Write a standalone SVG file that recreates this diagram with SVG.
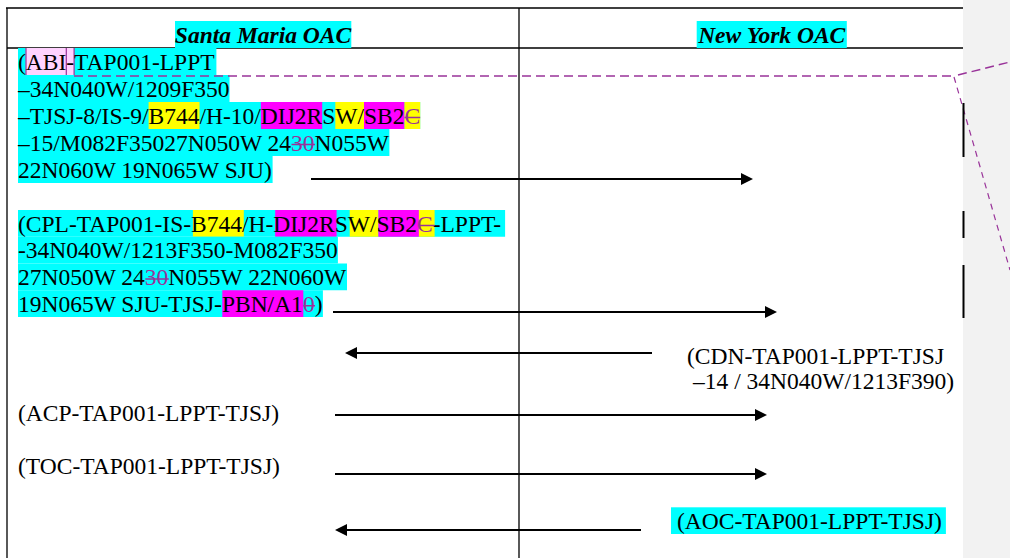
<svg xmlns="http://www.w3.org/2000/svg" width="1010" height="558" viewBox="0 0 1010 558">
  <defs>
    <style>
      .t { font-family: "Liberation Serif", "Times New Roman", serif; font-size: 23.5px; fill: #000; }
      .h { font-family: "Liberation Serif", "Times New Roman", serif; font-size: 23.5px; font-weight: bold; font-style: italic; fill: #000; }
      .del { fill: #993399; }
      .cy { fill: #00ffff; }
      .ye { fill: #ffff00; }
      .mg { fill: #ff00ff; }
      .strike { stroke: #993399; stroke-width: 1.3; }
      .grid { stroke: #000; stroke-width: 1.3; fill: none; }
      .arrow { stroke: #000; stroke-width: 1.8; fill: none; marker-end: url(#head); }
      .cmt { stroke: #993399; fill: none; }
    </style>
    <marker id="head" markerUnits="userSpaceOnUse" markerWidth="12" markerHeight="12" refX="2" refY="6" orient="auto">
      <path d="M0,0 L12,6 L0,12 Z" fill="#000"/>
    </marker>
  </defs>

  <!-- margin pane -->
  <rect x="963" y="0" width="47" height="558" fill="#f2f2f2"/>

  <!-- table frame -->
  <g id="table">
    <path class="grid" d="M6,8 H963 M7,8 V558 M519,8 V558 M7,48 H963"/>
  </g>

  <!-- column headers -->
  <g id="header-santa-maria">
    <rect class="cy" x="175" y="21" width="176.3" height="27"/>
    <text class="h" x="263" y="43" text-anchor="middle">Santa Maria OAC</text>
  </g>
  <g id="header-new-york">
    <rect class="cy" x="696.7" y="21" width="150.1" height="27"/>
    <text class="h" x="771.7" y="43" text-anchor="middle">New York OAC</text>
  </g>

  <!-- ABI message -->
  <g id="msg-abi">
    <rect class="cy" x="18" y="48" width="198.4" height="27"/>
    <rect x="25.8" y="48" width="48.3" height="27" fill="#ffd2ff"/>
    <path d="M26,48 V75 M66.3,48 V75 M74.1,48 V75" stroke="#993399" stroke-width="1.2"/>
    <rect class="cy" x="18" y="75" width="211.5" height="27"/>
    <rect class="cy" x="18" y="102" width="402.2" height="27"/>
    <rect class="ye" x="148.6" y="102" width="50.9" height="27"/>
    <rect class="mg" x="260.9" y="102" width="61.3" height="27"/>
    <rect class="ye" x="335.3" y="102" width="28.7" height="27"/>
    <rect class="mg" x="364" y="102" width="40.5" height="27"/>
    <rect class="ye" x="404.5" y="102" width="15.7" height="27"/>
    <rect class="cy" x="18" y="129" width="371.4" height="27"/>
    <rect class="cy" x="18" y="156" width="254.6" height="27"/>
    <text class="t" x="18" y="69.5">(ABI-TAP001-LPPT</text>
    <text class="t" x="18" y="96.5">–34N040W/1209F350</text>
    <text class="t" x="18" y="123.5">–TJSJ-8/IS-9/B744/H-10/DIJ2RSW/SB2<tspan class="del">C</tspan></text>
    <text class="t" x="18" y="150.5">–15/M082F35027N050W 24<tspan class="del">30</tspan>N055W</text>
    <text class="t" x="18" y="177.5">22N060W 19N065W SJU)</text>
    <path class="strike" d="M404.5,117.5 H420.2 M291.5,144.5 H315"/>
  </g>

  <!-- CPL message -->
  <g id="msg-cpl">
    <rect class="cy" x="18" y="210" width="487.1" height="26.75"/>
    <rect class="ye" x="192.9" y="210" width="50.9" height="26.75"/>
    <rect class="mg" x="275.2" y="210" width="61.4" height="26.75"/>
    <rect class="ye" x="349.7" y="210" width="28.7" height="26.75"/>
    <rect class="mg" x="378.4" y="210" width="40.5" height="26.75"/>
    <rect class="ye" x="418.9" y="210" width="15.7" height="26.75"/>
    <rect class="cy" x="18" y="236.75" width="319.9" height="26.75"/>
    <rect class="cy" x="18" y="263.5" width="329" height="26.75"/>
    <rect class="cy" x="18" y="290.25" width="304.9" height="26.75"/>
    <rect class="mg" x="222.3" y="290.25" width="81" height="26.75"/>
    <text class="t" x="18" y="231.5">(CPL-TAP001-IS-B744/H-DIJ2RSW/SB2<tspan class="del">C</tspan>-LPPT-</text>
    <text class="t" x="18" y="258.25">-34N040W/1213F350-M082F350</text>
    <text class="t" x="18" y="285">27N050W 24<tspan class="del">30</tspan>N055W 22N060W</text>
    <text class="t" x="18" y="311.75">19N065W SJU-TJSJ-PBN/A1<tspan class="del">0</tspan>)</text>
    <path class="strike" d="M418.9,225.5 H434.6 M145.3,279 H168.8 M303.3,305.75 H315"/>
  </g>

  <!-- CDN message -->
  <g id="msg-cdn">
    <text class="t" x="687" y="364">(CDN-TAP001-LPPT-TJSJ</text>
    <text class="t" x="693" y="389">–14 / 34N040W/1213F390)</text>
  </g>

  <!-- ACP message -->
  <g id="msg-acp">
    <text class="t" x="18" y="421">(ACP-TAP001-LPPT-TJSJ)</text>
  </g>

  <!-- TOC message -->
  <g id="msg-toc">
    <text class="t" x="18" y="474">(TOC-TAP001-LPPT-TJSJ)</text>
  </g>

  <!-- AOC message -->
  <g id="msg-aoc">
    <rect class="cy" x="671" y="507.3" width="274.9" height="26.7"/>
    <text class="t" x="677" y="529">(AOC-TAP001-LPPT-TJSJ)</text>
  </g>

  <!-- comment anchor lines and change bars -->
  <g id="comment-marks">
    <path class="cmt" stroke-width="1.5" stroke-dasharray="9 5" d="M74,76 H953 M958,75 L1010,62"/>
    <path class="cmt" stroke-width="1.2" stroke-dasharray="6 5" d="M954,77 L1010,270"/>
    <rect x="962.5" y="103" width="2" height="54" fill="#000"/>
    <rect x="962.5" y="211" width="2" height="27" fill="#000"/>
    <rect x="962.5" y="265" width="2" height="53" fill="#000"/>
  </g>

  <!-- message arrows -->
  <g id="connectors">
    <line class="arrow" x1="311" y1="179" x2="743" y2="179"/>
    <line class="arrow" x1="333" y1="312" x2="767" y2="312"/>
    <line class="arrow" x1="652" y1="353" x2="355" y2="353"/>
    <line class="arrow" x1="335" y1="415" x2="757" y2="415"/>
    <line class="arrow" x1="335" y1="474" x2="757" y2="474"/>
    <line class="arrow" x1="641" y1="530" x2="345" y2="530"/>
  </g>
</svg>
